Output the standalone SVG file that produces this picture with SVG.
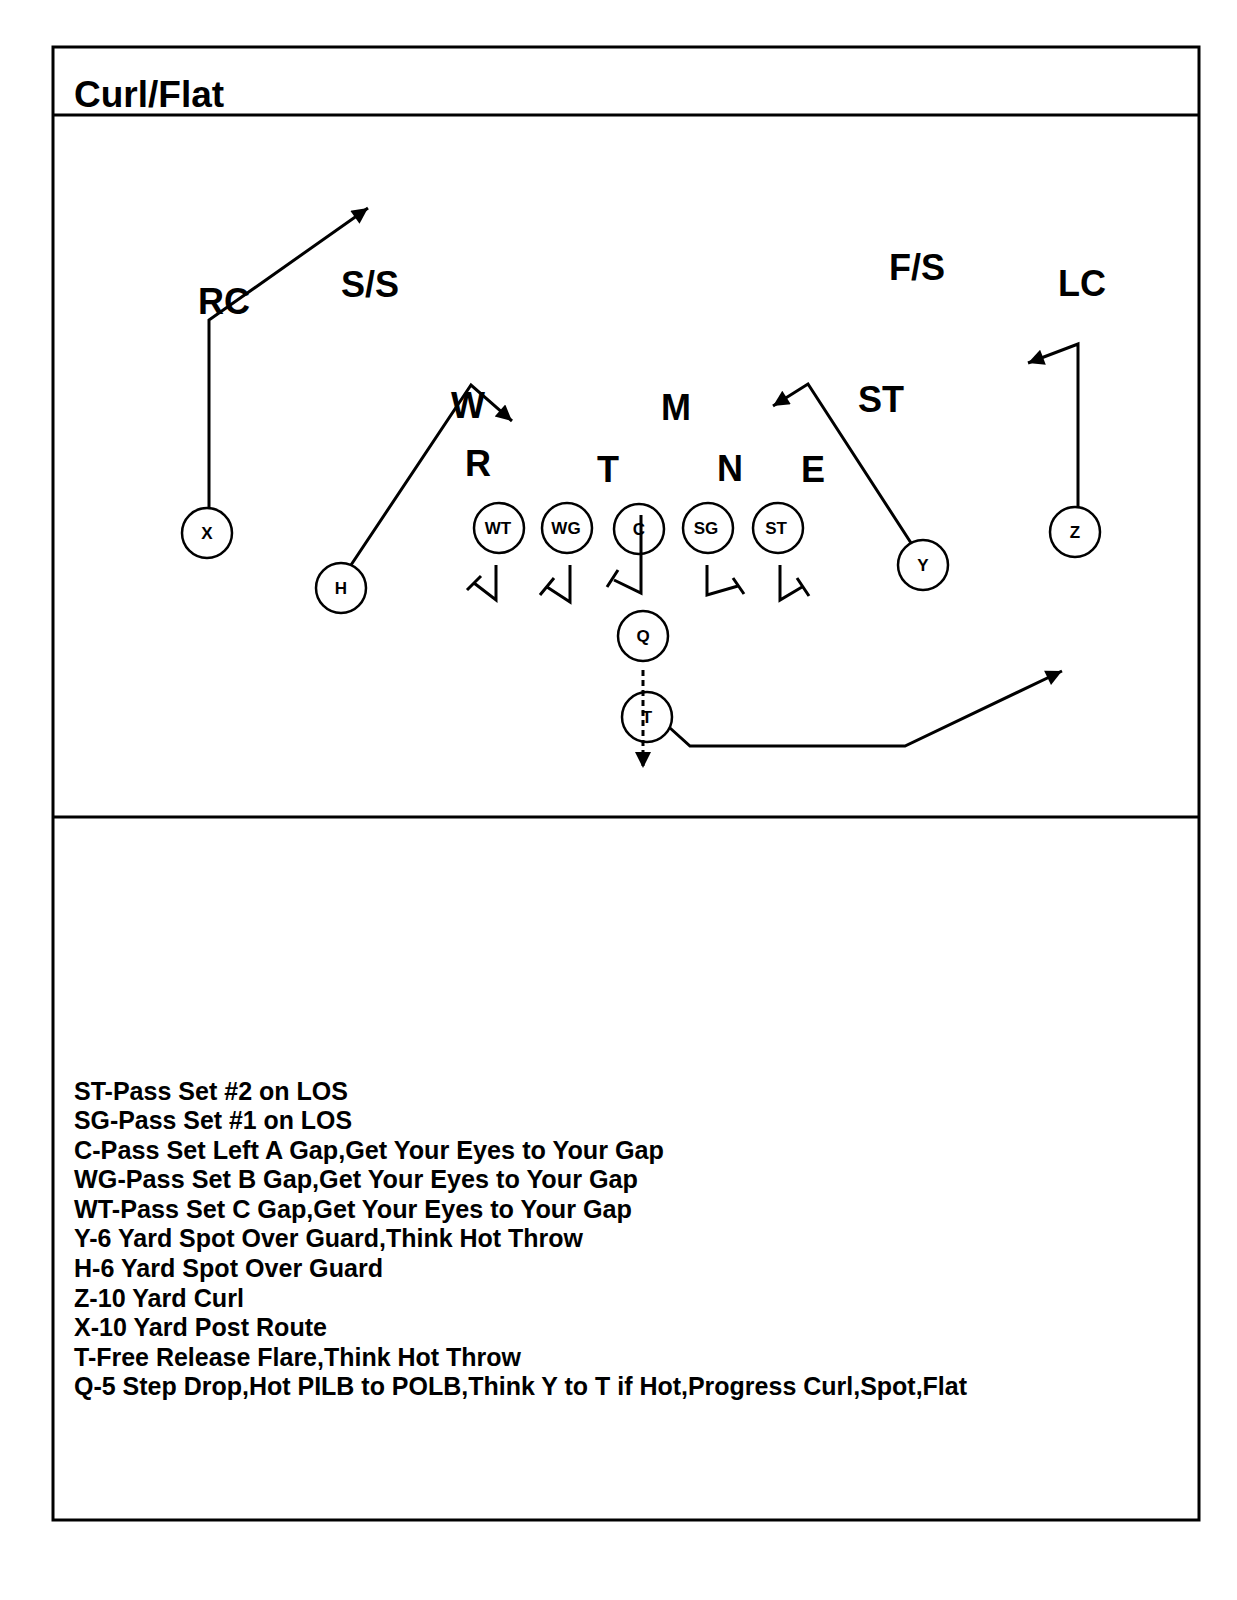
<svg xmlns="http://www.w3.org/2000/svg" width="1237" height="1600" viewBox="0 0 1237 1600">
<defs>
<style>
.frame{fill:none;stroke:#000;stroke-width:3}
.pl{fill:#fff;stroke:#000;stroke-width:2.5}
.pt{font-family:"Liberation Sans",Arial,sans-serif;font-weight:bold;font-size:17px;text-anchor:middle;fill:#000}
.def{font-family:"Liberation Sans",Arial,sans-serif;font-weight:bold;font-size:36px;fill:#000}
.note{font-family:"Liberation Sans",Arial,sans-serif;font-weight:bold;font-size:25px;fill:#000}
.rt{fill:none;stroke:#000;stroke-width:3;stroke-linejoin:miter}
.blk{fill:none;stroke:#000;stroke-width:3}
</style>
<marker id="ah" viewBox="0 0 10 10" refX="10" refY="5" markerWidth="20" markerHeight="16" markerUnits="userSpaceOnUse" orient="auto">
<path d="M0,0 L10,5 L0,10 z" fill="#000" stroke="none"/>
</marker>
</defs>
<rect x="0" y="0" width="1237" height="1600" fill="#fff"/>
<g id="frame">
<rect class="frame" x="53" y="47" width="1146" height="1473"/>
<line class="frame" x1="53" y1="115" x2="1199" y2="115"/>
<line class="frame" x1="53" y1="817" x2="1199" y2="817"/>
<text x="74" y="107" font-family="'Liberation Sans',Arial,sans-serif" font-weight="bold" font-size="37">Curl/Flat</text>
</g>
<g id="defense">
<text class="def" x="198" y="314">RC</text>
<text class="def" x="341" y="297">S/S</text>
<text class="def" x="889" y="280">F/S</text>
<text class="def" x="1058" y="296">LC</text>
<text class="def" x="451" y="418">W</text>
<text class="def" x="661" y="420">M</text>
<text class="def" x="858" y="412">ST</text>
<text class="def" x="465" y="476">R</text>
<text class="def" x="597" y="482">T</text>
<text class="def" x="717" y="481">N</text>
<text class="def" x="801" y="482">E</text>
</g>
<g id="connectors">
<path class="rt" d="M209,515 L209,320 L368,208" marker-end="url(#ah)"/>
<path class="rt" d="M347,571 L471,385 L512,421" marker-end="url(#ah)"/>
<path class="rt" d="M913,546 L808,384 L773,406" marker-end="url(#ah)"/>
<path class="rt" d="M1078,508 L1078,344 L1028,363" marker-end="url(#ah)"/>
<path class="rt" d="M670,728 L690,746 L905,746 L1062,671" marker-end="url(#ah)"/>
<path class="rt" d="M643,670 L643,768" stroke-dasharray="6,4" marker-end="url(#ah)"/>
<path class="blk" d="M641,515 L641,593 L614,580 M607,587 L618,570"/>
<path class="blk" d="M496,565 L496,600 L474,583 M467,590 L481,576"/>
<path class="blk" d="M570,565 L570,602 L547,587 M540,595 L554,578"/>
<path class="blk" d="M707,565 L707,595 L738,586 M733,578 L744,594"/>
<path class="blk" d="M780,565 L780,600 L802,587 M797,578 L809,596"/>
</g>
<g id="node-X"><circle class="pl" cx="207" cy="533" r="25"/><text class="pt" x="207" y="539">X</text></g>
<g id="node-H"><circle class="pl" cx="341" cy="588" r="25"/><text class="pt" x="341" y="594">H</text></g>
<g id="node-WT"><circle class="pl" cx="499" cy="528" r="25"/><text class="pt" x="498" y="534">WT</text></g>
<g id="node-WG"><circle class="pl" cx="567" cy="528" r="25"/><text class="pt" x="566" y="534">WG</text></g>
<g id="node-C"><circle class="pl" cx="639" cy="529" r="25" fill-opacity="0"/><text class="pt" x="639" y="535">C</text></g>
<g id="node-SG"><circle class="pl" cx="708" cy="528" r="25"/><text class="pt" x="706" y="534">SG</text></g>
<g id="node-ST"><circle class="pl" cx="778" cy="528" r="25"/><text class="pt" x="776" y="534">ST</text></g>
<g id="node-Y"><circle class="pl" cx="923" cy="565" r="25"/><text class="pt" x="923" y="571">Y</text></g>
<g id="node-Z"><circle class="pl" cx="1075" cy="532" r="25"/><text class="pt" x="1075" y="538">Z</text></g>
<g id="node-Q"><circle class="pl" cx="643" cy="636" r="25"/><text class="pt" x="643" y="642">Q</text></g>
<g id="node-T"><circle class="pl" cx="647" cy="717" r="25" fill-opacity="0"/><text class="pt" x="647" y="723">T</text></g>
<g id="notes">
<text class="note" x="74" y="1100" textLength="274" lengthAdjust="spacingAndGlyphs">ST-Pass Set #2 on LOS</text>
<text class="note" x="74" y="1129" textLength="278" lengthAdjust="spacingAndGlyphs">SG-Pass Set #1 on LOS</text>
<text class="note" x="74" y="1159" textLength="590" lengthAdjust="spacingAndGlyphs">C-Pass Set Left A Gap,Get Your Eyes to Your Gap</text>
<text class="note" x="74" y="1188" textLength="564" lengthAdjust="spacingAndGlyphs">WG-Pass Set B Gap,Get Your Eyes to Your Gap</text>
<text class="note" x="74" y="1218" textLength="558" lengthAdjust="spacingAndGlyphs">WT-Pass Set C Gap,Get Your Eyes to Your Gap</text>
<text class="note" x="74" y="1247" textLength="509" lengthAdjust="spacingAndGlyphs">Y-6 Yard Spot Over Guard,Think Hot Throw</text>
<text class="note" x="74" y="1277" textLength="309" lengthAdjust="spacingAndGlyphs">H-6 Yard Spot Over Guard</text>
<text class="note" x="74" y="1307" textLength="170" lengthAdjust="spacingAndGlyphs">Z-10 Yard Curl</text>
<text class="note" x="74" y="1336" textLength="253" lengthAdjust="spacingAndGlyphs">X-10 Yard Post Route</text>
<text class="note" x="74" y="1366" textLength="447" lengthAdjust="spacingAndGlyphs">T-Free Release Flare,Think Hot Throw</text>
<text class="note" x="74" y="1395" textLength="893" lengthAdjust="spacingAndGlyphs">Q-5 Step Drop,Hot PILB to POLB,Think Y to T if Hot,Progress Curl,Spot,Flat</text>
</g>
</svg>
